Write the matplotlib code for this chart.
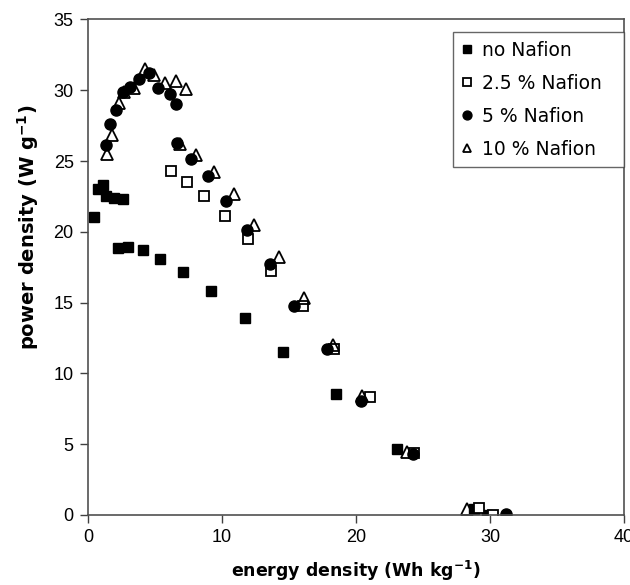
import numpy as np
import matplotlib
matplotlib.use("Agg")
import matplotlib.pyplot as plt

plt.rcParams["font.family"] = ["Liberation Sans", "DejaVu Sans"]
plt.rcParams["mathtext.fontset"] = "custom"
plt.rcParams["mathtext.rm"] = "DejaVu Sans"
plt.rcParams["mathtext.bf"] = "DejaVu Sans:bold"

# energy density (Wh/kg), power density (W/g)
no_x = [0.42, 0.77, 1.09, 1.34, 1.96, 2.58, 2.21, 2.95, 4.07, 5.39, 7.12, 9.21,
        11.69, 14.57, 18.49, 23.06, 28.8, 29.8]
no_y = [21.07, 23.0, 23.3, 22.5, 22.4, 22.35, 18.86, 18.93, 18.7, 18.08, 17.19, 15.82,
        13.93, 11.48, 8.51, 4.69, 0.45, 0.0]

n25_x = [6.18, 7.37, 8.69, 10.22, 11.94, 13.68, 16.06, 18.34, 21.02, 24.3, 29.2, 30.2]
n25_y = [24.28, 23.5, 22.51, 21.15, 19.5, 17.21, 14.73, 11.74, 8.32, 4.36, 0.5, 0.0]

n5_x = [1.34, 1.66, 2.08, 2.58, 3.15, 3.82, 4.57, 5.19, 6.11, 6.6, 6.63, 7.67,
        8.98, 10.3, 11.89, 13.57, 15.36, 17.8, 20.38, 24.25, 31.2]
n5_y = [26.1, 27.6, 28.6, 29.9, 30.25, 30.83, 31.19, 30.18, 29.77, 29.0, 26.29, 25.18,
        23.93, 22.2, 20.16, 17.73, 14.78, 11.72, 8.08, 4.31, 0.05]

n10_x = [1.41, 1.76, 2.33, 2.7, 3.45, 4.24, 4.94, 5.73, 6.6, 7.3, 6.88, 8.09,
         9.41, 10.9, 12.39, 14.25, 16.11, 18.27, 20.45, 23.8, 28.3]
n10_y = [25.53, 26.87, 29.1, 29.9, 30.18, 31.47, 31.05, 30.53, 30.65, 30.06, 26.17, 25.46,
         24.21, 22.68, 20.51, 18.2, 15.32, 12.02, 8.37, 4.48, 0.4]

fig = plt.figure(figsize=(6.3, 5.85), dpi=100)
ax = fig.add_axes([0.1397, 0.1197, 0.8508, 0.847])

ax.plot(no_x, no_y, ls="none", marker="s", ms=7, mfc="black", mec="black", label="no Nafion")
ax.plot(n25_x, n25_y, ls="none", marker="s", ms=7, mfc="white", mec="black", mew=1.3, label="2.5 % Nafion")
ax.plot(n5_x, n5_y, ls="none", marker="o", ms=8, mfc="black", mec="black", label="5 % Nafion")
ax.plot(n10_x, n10_y, ls="none", marker="^", ms=8, mfc="none", mec="black", mew=1.3, label="10 % Nafion")

ax.set_xlim(0, 40)
ax.set_ylim(0, 35)
ax.set_xticks(np.arange(0, 41, 10))
ax.set_yticks(np.arange(0, 36, 5))
ax.tick_params(direction="out", length=5.8, width=1, color="#404040", labelsize=13, pad=4.5)
for s in ax.spines.values():
    s.set_color("#505050")
    s.set_linewidth(1.2)

ax.set_xlabel(r"energy density (Wh kg$^{\mathbf{-1}}$)", family="DejaVu Sans",
              fontsize=12.5, fontweight="bold", labelpad=9)
ax.set_ylabel(r"power density (W g$^{\mathbf{-1}}$)", family="DejaVu Sans",
              fontsize=14, fontweight="bold")
ax.yaxis.set_label_coords(-0.088, 0.58)

leg = ax.legend(loc="upper right", bbox_to_anchor=(0.681, 0.5, 0.319, 0.474), mode="expand",
                prop={"family": "DejaVu Sans", "size": 13.5}, frameon=True,
                fancybox=False, markerscale=0.8, handlelength=0.6, handletextpad=0.5,
                labelspacing=0.75, borderpad=0.45, borderaxespad=0)
leg.get_frame().set_edgecolor("#404040")
leg.get_frame().set_linewidth(1.0)

fig.savefig("out.png", dpi=100)
